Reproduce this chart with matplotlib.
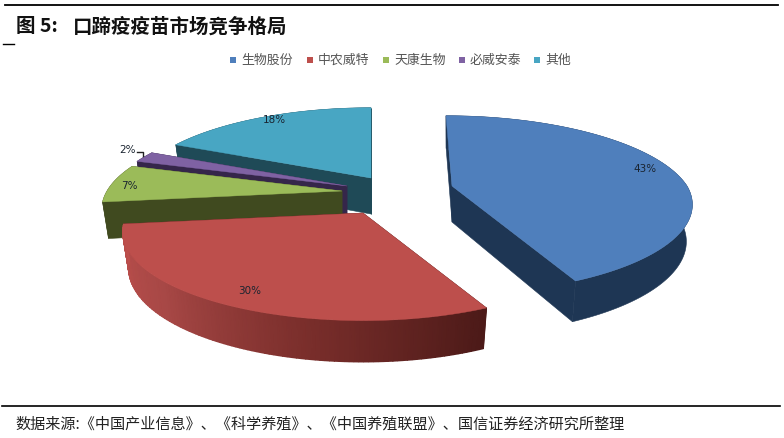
import numpy as np
import matplotlib
matplotlib.use("Agg")
import matplotlib.pyplot as plt
from matplotlib.colors import LinearSegmentedColormap
from matplotlib.patches import Polygon, Rectangle

plt.rcParams['font.family'] = ['Noto Sans CJK SC', 'DejaVu Sans']

# data
categories = ['生物股份', '中农威特', '天康生物', '必威安泰', '其他']
shares = [43, 30, 7, 2, 18]
title_head = '图 5:'
title_text = '口蹄疫疫苗市场竞争格局'
source_text = '数据来源:《中国产业信息》、《科学养殖》、《中国养殖联盟》、国信证券经济研究所整理'

# style / layout (pixels)
top_cols = ['#4f7fbc', '#bd4f4c', '#9bbb59', '#7f62a3', '#48a6c3']
wall_cols = ['#1e3654', '#4c1a18', '#404a1f', '#35264a', '#1f4a57']
red_wall = LinearSegmentedColormap.from_list('redwall', ['#4c1a18', '#7a2e2b', '#a84846', '#bd4f4c'])
apexes = [(452, 187), (363, 214), (342, 192), (347, 187), (371, 179)]
skews = [-6, 0, 0, 0, 0]
legend_marks = [233, 310, 386, 462, 537]
label_pos = [(645, 169), (250, 291), (129, 186), (128, 150), (274, 120)]
A, B, K, DEPTH = 235.0, 85.0, 0.21, 36.0

W, H = 784, 439
fig = plt.figure(figsize=(W / 100, H / 100), dpi=100)
ax = fig.add_axes([0, 0, 1, 1])
ax.set_xlim(0, W)
ax.set_ylim(H, 0)
ax.axis('off')


def project(theta, skew):
    u, v = np.sin(theta), np.cos(theta)
    w = 1 + K * v
    return A * u / w + skew * max(v, 0), -B * v / w


def top_pt(apex, theta, skew):
    x, y = project(theta, skew)
    return apex[0] + x, apex[1] + y


def bot_pt(apex, theta, skew):
    x, y = project(theta, skew)
    return apex[0] + 0.975 * x, apex[1] + DEPTH + 1.05 * y


fractions = np.cumsum([0] + shares) / sum(shares) * 2 * np.pi
order = [0, 4, 3, 2, 1]  # back-to-front painting
for rank, i in enumerate(order):
    z = 2 + rank
    t0, t1 = fractions[i], fractions[i + 1]
    ap, sk = apexes[i], skews[i]
    apb = (ap[0], ap[1] + DEPTH)
    ts = np.linspace(t0, t1, max(12, int((t1 - t0) * 60)))
    tops = [top_pt(ap, t, sk) for t in ts]
    bots = [bot_pt(ap, t, sk) for t in ts]
    for t in (t0, t1):
        ax.add_patch(Polygon([ap, top_pt(ap, t, sk), bot_pt(ap, t, sk), apb],
                             closed=True, fc=wall_cols[i], ec=wall_cols[i], lw=0.4, zorder=z))
    if i == 1:
        xs = np.array([[p[0] for p in tops], [p[0] for p in bots]])
        ys = np.array([[p[1] for p in tops], [p[1] for p in bots]])
        c = np.linspace(0, 1, len(ts))
        ax.pcolormesh(xs, ys, np.vstack([c, c]), shading='gouraud', cmap=red_wall, zorder=z)
    else:
        ax.add_patch(Polygon(tops + bots[::-1], closed=True, fc=wall_cols[i],
                             ec=wall_cols[i], lw=0.4, zorder=z))
    ax.add_patch(Polygon([ap] + tops, closed=True, fc=top_cols[i], ec=top_cols[i], lw=0.3, zorder=z))

for val, (lx, ly) in zip(shares, label_pos):
    ax.text(lx, ly, f'{val}%', ha='center', va='center', fontsize=7.5,
            color='#1a2430', family='DejaVu Sans', zorder=20)
ax.plot([137, 143, 143], [153, 153, 157], color='#222222', lw=1, zorder=20)

for name, mx, col in zip(categories, legend_marks, top_cols):
    ax.add_patch(Rectangle((mx - 3, 58), 6, 6, fc=col, ec='none', zorder=20))
    ax.text(mx + 8, 60.5, name, ha='left', va='center', fontsize=9.3, color='#555555', zorder=20)

ax.plot([5, 778], [6, 6], color='black', lw=1.3)
ax.plot([3, 14], [45, 45], color='black', lw=1.0)
ax.plot([2, 780], [407, 407], color='black', lw=1.2)
ax.text(16, 27, title_head, ha='left', va='center', fontsize=14, fontweight='bold', color='#111111')
ax.text(73, 27, title_text, ha='left', va='center', fontsize=14, fontweight='bold', color='#111111')
ax.text(15, 424, source_text, ha='left', va='center', fontsize=10.9, color='#222222')

fig.savefig('out.png', dpi=100)
